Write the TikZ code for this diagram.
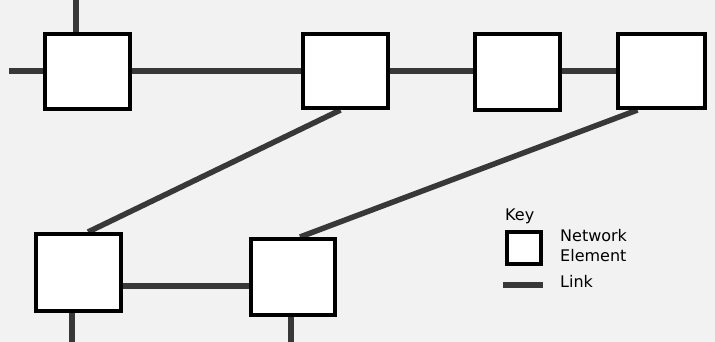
\documentclass[tikz,border=0pt]{standalone}
\usepackage{fontspec}
\setmainfont{DejaVu Sans}
\usetikzlibrary{calc,backgrounds}
\begin{document}
\begin{tikzpicture}[x=1pt,y=-1pt,
  elem/.style={draw=black,fill=white,line width=4.3pt,inner sep=0pt},
  link/.style={draw=black!78,line width=5.5pt},
  keytext/.style={anchor=base west,inner sep=0pt,font=\fontsize{16}{19}\selectfont}]
\useasboundingbox (0,0) rectangle (715,342);
% network elements
\node[elem,minimum width=84.7pt,minimum height=74.7pt] (A) at (87.5,71.5) {};
\node[elem,minimum width=84.7pt,minimum height=73.7pt] (B) at (345.5,71) {};
\node[elem,minimum width=84.7pt,minimum height=75.7pt] (C) at (517.5,72) {};
\node[elem,minimum width=86.7pt,minimum height=73.7pt] (D) at (661.5,71) {};
\node[elem,minimum width=84.7pt,minimum height=76.7pt] (E) at (78.5,272.5) {};
\node[elem,minimum width=83.7pt,minimum height=75.7pt] (F) at (293,277) {};
% key
\node[keytext] (keylabel) at (505,220) {Key};
\node[elem,minimum width=33.7pt,minimum height=31.7pt] (K) at (524,248) {};
\node[keytext] (knet) at (560,241) {Network};
\node[keytext] (kel) at (560,261) {Element};
\node[keytext] (klink) at (560,287) {Link};
\coordinate (k1) at (503,285);
\coordinate (k2) at (543,285);
% free ends
\coordinate (Lstart) at (9,71);
\coordinate (Atop) at (76,0);
\coordinate (Ebot) at (72,342);
\coordinate (Fbot) at (291,342);
\coordinate (yb) at (0,286);
\begin{scope}[on background layer]
\fill[black!5] (0,0) rectangle (715,342);
\draw[link] (Lstart) -- (A.west |- Lstart);
\draw[link] (A.east |- Lstart) -- (B.west |- Lstart);
\draw[link] (B.east |- Lstart) -- (C.west |- Lstart);
\draw[link] (C.east |- Lstart) -- (D.west |- Lstart);
\draw[link] (Atop) -- (Atop |- A.north);
\draw[link] ($(B.south)+(-5,0)$) -- ($(E.north)+(9.5,0)$);
\draw[link] ($(D.south)+(-24,0)$) -- ($(F.north)+(7,0)$);
\draw[link] (E.east |- yb) -- (F.west |- yb);
\draw[link] (Ebot) -- (Ebot |- E.south);
\draw[link] (Fbot) -- (Fbot |- F.south);
\draw[link] (k1) -- (k2);
\end{scope}
\end{tikzpicture}
\end{document}
